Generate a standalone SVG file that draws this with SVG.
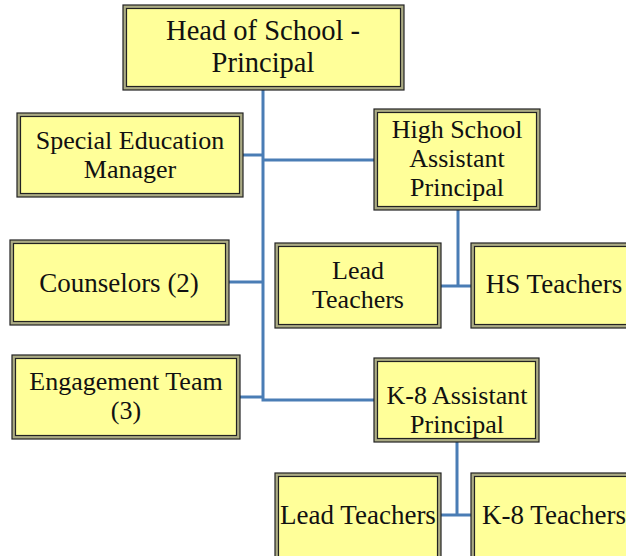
<svg xmlns="http://www.w3.org/2000/svg" width="626" height="556" viewBox="0 0 626 556">
<style>
.o{fill:#abab84;stroke:#222;stroke-width:1.2}
.i{fill:#ffff99;stroke:#222;stroke-width:1.2}
.t{font-family:"Liberation Serif","Times New Roman",serif;font-size:27px;fill:#111;text-anchor:middle}
.m{font-size:26px}
.h{font-size:28.5px}
.c{fill:none;stroke:#4a7db5;stroke-width:3}
</style>
<rect width="626" height="556" fill="#fff"/>
<g id="connectors">
<path class="c" d="M263 90V400H374"/>
<path class="c" d="M243 155H263"/>
<path class="c" d="M263 160H374"/>
<path class="c" d="M229 282H263"/>
<path class="c" d="M240 397H263"/>
<path class="c" d="M458 210V286M441 286H471"/>
<path class="c" d="M457 442V515M441 515H471"/>
</g>
<g id="head">
<rect class="o" x="123" y="5" width="281" height="85"/><rect class="i" x="126.5" y="8.5" width="274" height="78"/>
<text class="t h" x="263" y="40">Head of School -</text>
<text class="t h" x="263" y="71.5">Principal</text>
</g>
<g id="sped">
<rect class="o" x="17" y="113" width="226" height="84"/><rect class="i" x="20.5" y="116.5" width="219" height="77"/>
<text class="t m" x="130" y="149">Special Education</text>
<text class="t m" x="130" y="178">Manager</text>
</g>
<g id="hsap">
<rect class="o" x="374" y="109" width="166" height="101"/><rect class="i" x="377.5" y="112.5" width="159" height="94"/>
<text class="t m" x="457" y="138">High School</text>
<text class="t m" x="457" y="167">Assistant</text>
<text class="t m" x="457" y="196">Principal</text>
</g>
<g id="counselors">
<rect class="o" x="10" y="240" width="219" height="85"/><rect class="i" x="13.5" y="243.5" width="212" height="78"/>
<text class="t" x="119" y="292">Counselors (2)</text>
</g>
<g id="hslead">
<rect class="o" x="275" y="243" width="166" height="85"/><rect class="i" x="278.5" y="246.5" width="159" height="78"/>
<text class="t m" x="358" y="279">Lead</text>
<text class="t m" x="358" y="308">Teachers</text>
</g>
<g id="hsteachers">
<rect class="o" x="471" y="243" width="170" height="85"/><rect class="i" x="474.5" y="246.5" width="163" height="78"/>
<text class="t" x="554" y="293">HS Teachers</text>
</g>
<g id="engagement">
<rect class="o" x="12" y="355" width="228" height="84"/><rect class="i" x="15.5" y="358.5" width="221" height="77"/>
<text class="t m" x="126" y="390">Engagement Team</text>
<text class="t m" x="126" y="419">(3)</text>
</g>
<g id="k8ap">
<rect class="o" x="374" y="358" width="165" height="84"/><rect class="i" x="377.5" y="361.5" width="158" height="77"/>
<text class="t m" x="457" y="404">K-8 Assistant</text>
<text class="t m" x="457" y="433">Principal</text>
</g>
<g id="k8lead">
<rect class="o" x="275" y="473" width="166" height="90"/><rect class="i" x="278.5" y="476.5" width="159" height="83"/>
<text class="t" x="358" y="524">Lead Teachers</text>
</g>
<g id="k8teachers">
<rect class="o" x="471" y="473" width="170" height="90"/><rect class="i" x="474.5" y="476.5" width="163" height="83"/>
<text class="t" x="554" y="524">K-8 Teachers</text>
</g>
</svg>
